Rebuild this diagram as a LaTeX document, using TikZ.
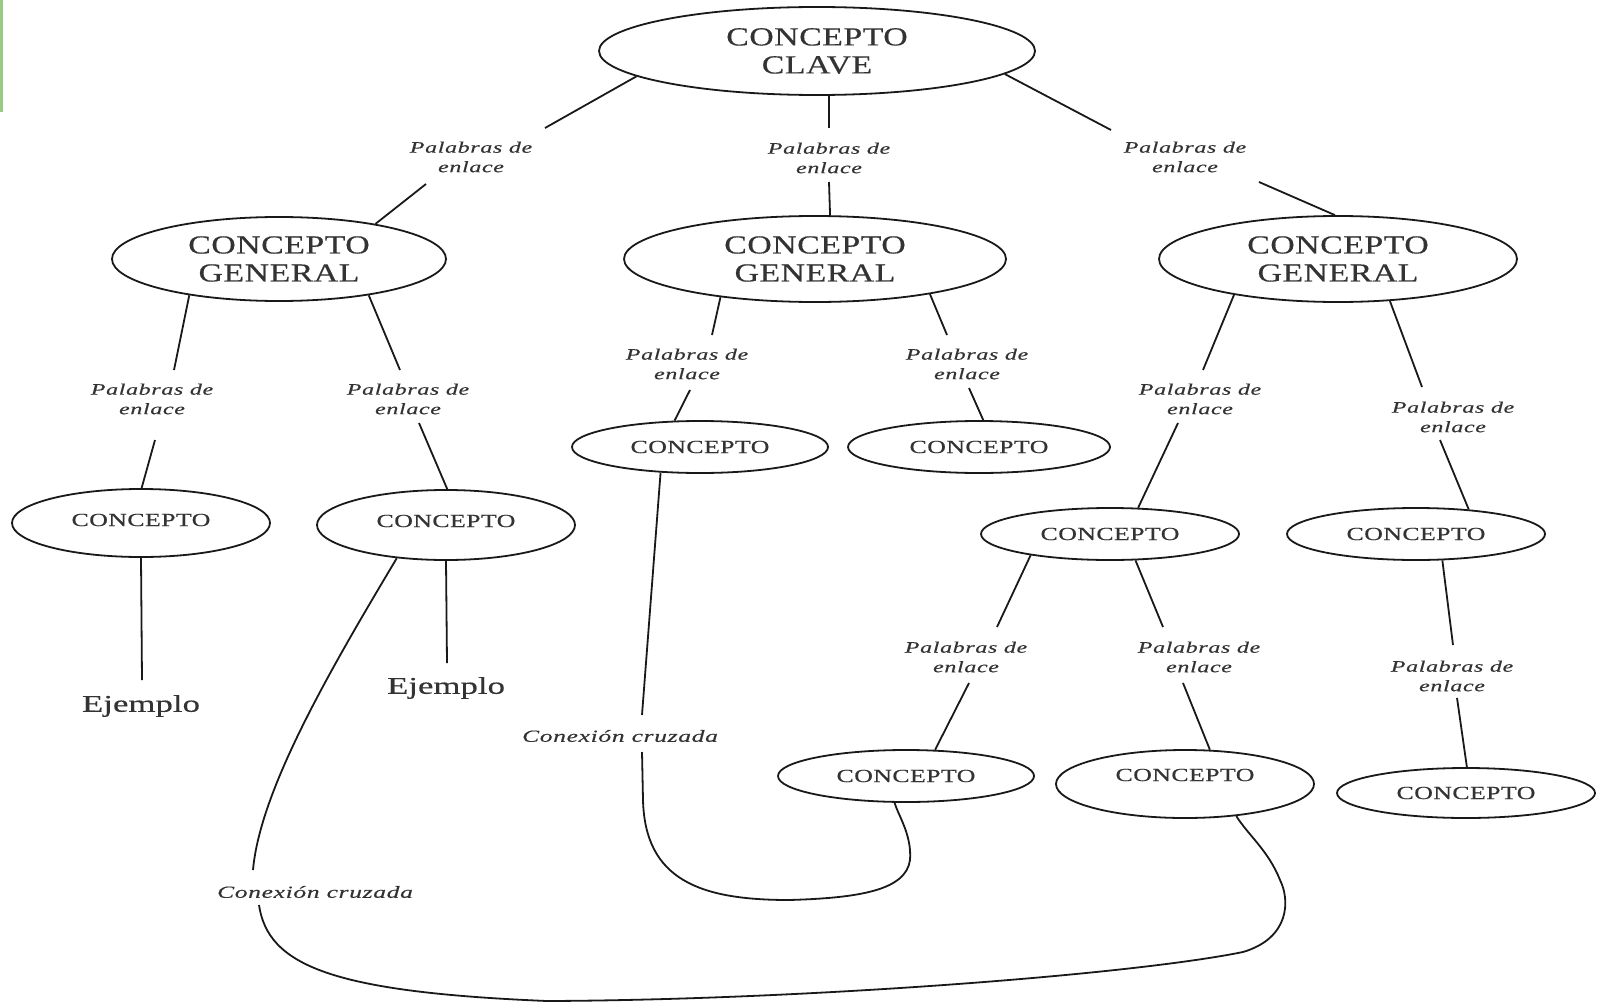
\documentclass[tikz,border=0pt]{standalone}
\usepackage{fontspec}
\setmainfont{Liberation Serif}
\newfontfamily\bigfont[FakeStretch=1.3,LetterSpace=2,FakeBold=0.4]{Liberation Serif}
\newfontfamily\smfont[FakeStretch=1.4,LetterSpace=2,FakeBold=0.4]{Liberation Serif}
\newfontfamily\ejfont[FakeStretch=1.45,FakeBold=0.4]{Liberation Serif}
\newfontfamily\itfont[FakeStretch=1.5,LetterSpace=4,FakeBold=0.3]{Liberation Serif}
\usetikzlibrary{shapes.geometric}
\definecolor{edgegreen}{RGB}{150,205,130}
\begin{document}
\begin{tikzpicture}[x=1pt,y=-1pt,
  ell/.style={draw=black!90, line width=1.8pt, ellipse, inner sep=0pt, text=black!80},
  bigell/.style={ell, font=\bigfont\fontsize{26}{28}\selectfont, align=center},
  smell/.style={ell, font=\smfont\fontsize{18.5}{22}\selectfont},
  lab/.style={font=\itfont\itshape\fontsize{16}{19.5}\selectfont, align=center, inner sep=0pt, text=black!80},
  cross/.style={font=\itfont\itshape\fontsize{17}{20}\selectfont, inner sep=0pt, text=black!80},
  ej/.style={font=\ejfont\fontsize{24}{27}\selectfont, inner sep=0pt, text=black!80},
  conn/.style={line width=1.8pt, draw=black!90},
]
\useasboundingbox (0,0) rectangle (1602,1003);
\fill[white] (0,0) rectangle (1602,1003);
\fill[edgegreen] (0,0) rectangle (3,112);

% concept nodes
\node[bigell, minimum width=436pt, minimum height=88pt] (top) at (817,51) {CONCEPTO\\CLAVE};
\node[bigell, minimum width=334pt, minimum height=84pt] (cgL) at (279,259) {CONCEPTO\\GENERAL};
\node[bigell, minimum width=382pt, minimum height=86pt] (cgM) at (815,259) {CONCEPTO\\GENERAL};
\node[bigell, minimum width=358pt, minimum height=86pt] (cgR) at (1338,259) {CONCEPTO\\GENERAL};
\node[smell, minimum width=258pt, minimum height=68pt] (cL1) at (141,523) {\raisebox{3pt}[\height][\depth]{CONCEPTO}};
\node[smell, minimum width=258pt, minimum height=70pt] (cL2) at (446,525) {\raisebox{4pt}[\height][\depth]{CONCEPTO}};
\node[smell, minimum width=256pt, minimum height=52pt] (cM1) at (700,447) {CONCEPTO};
\node[smell, minimum width=262pt, minimum height=52pt] (cM2) at (979,447) {CONCEPTO};
\node[smell, minimum width=258pt, minimum height=52pt] (cR1) at (1110,534) {CONCEPTO};
\node[smell, minimum width=258pt, minimum height=52pt] (cR2) at (1416,534) {CONCEPTO};
\node[smell, minimum width=256pt, minimum height=52pt] (cR1a) at (906,776) {CONCEPTO};
\node[smell, minimum width=258pt, minimum height=68pt] (cR1b) at (1185,784) {\raisebox{9pt}[\height][\depth]{CONCEPTO}};
\node[smell, minimum width=258pt, minimum height=50pt] (cR2a) at (1466,793) {CONCEPTO};

% linking words
\node[lab] (lTL) at (471,157) {Palabras de\\enlace};
\node[lab] (lTM) at (829,158) {Palabras de\\enlace};
\node[lab] (lTR) at (1185,157) {Palabras de\\enlace};
\node[lab] (lL1) at (152,399) {Palabras de\\enlace};
\node[lab] (lL2) at (408,399) {Palabras de\\enlace};
\node[lab] (lM1) at (687,364) {Palabras de\\enlace};
\node[lab] (lM2) at (967,364) {Palabras de\\enlace};
\node[lab] (lR1) at (1200,399) {Palabras de\\enlace};
\node[lab] (lR2) at (1453,417) {Palabras de\\enlace};
\node[lab] (lR1a) at (966,657) {Palabras de\\enlace};
\node[lab] (lR1b) at (1199,657) {Palabras de\\enlace};
\node[lab] (lR2a) at (1452,676) {Palabras de\\enlace};

% examples and cross-link labels
\node[ej] (ej1) at (141,706) {Ejemplo};
\node[ej] (ej2) at (446,688) {Ejemplo};
\node[cross] (x1) at (620,736) {Conexión cruzada};
\node[cross] (x2) at (315,892) {Conexión cruzada};

% connectors
\draw[conn] (top.188.9) -- ([shift={(74,-29)}]lTL.center);
\draw[conn] ([shift={(-45,27)}]lTL.center) -- (cgL.20.8);
\draw[conn] (top.285.3) -- ([shift={(0,-30)}]lTM.center);
\draw[conn] ([shift={(0,24)}]lTM.center) -- (cgM.71.9);
\draw[conn] (top.353.7) -- ([shift={(-74,-27)}]lTR.center);
\draw[conn] ([shift={(74,25)}]lTR.center) -- (cgR.94);

\draw[conn] (cgL.202.1) -- ([shift={(22,-29)}]lL1.center);
\draw[conn] ([shift={(3,41)}]lL1.center) -- (cL1.89);
\draw[conn] (cgL.338.5) -- ([shift={(-8,-29)}]lL2.center);
\draw[conn] ([shift={(11,24)}]lL2.center) -- (cL2.88);
\draw[conn] (cL1.270) -- ([shift={(1,-26)}]ej1.center);
\draw[conn] (cL2.270) -- ([shift={(1,-25)}]ej2.center);

\draw[conn] (cgM.202.8) -- ([shift={(25,-29)}]lM1.center);
\draw[conn] ([shift={(3,26)}]lM1.center) -- (cM1.134.4);
\draw[conn] (cgM.343.8) -- ([shift={(-20,-29)}]lM2.center);
\draw[conn] ([shift={(2,24)}]lM2.center) -- (cM2.81.3);

\draw[conn] (cgR.199.6) -- ([shift={(3,-29)}]lR1.center);
\draw[conn] ([shift={(-22,24)}]lR1.center) -- (cR1.43.3);
\draw[conn] (cgR.321.7) -- ([shift={(-31,-30)}]lR2.center);
\draw[conn] ([shift={(-13,23)}]lR2.center) -- (cR2.25.1);

\draw[conn] (cR1.195.2) -- ([shift={(31,-30)}]lR1a.center);
\draw[conn] ([shift={(3,26)}]lR1a.center) -- (cR1a.42.2);
\draw[conn] (cR1.314.4) -- ([shift={(-36,-30)}]lR1b.center);
\draw[conn] ([shift={(-16,26)}]lR1b.center) -- (cR1b.54.3);

\draw[conn] (cR2.315.6) -- ([shift={(1,-31)}]lR2a.center);
\draw[conn] ([shift={(5,22)}]lR2a.center) -- (cR2a.88);

% cross connections
\draw[conn] (cM1.213.1) -- ([shift={(22,-21)}]x1.center);
\draw[conn] ([shift={(22,16)}]x1.center) -- (643,800)
  .. controls (645,880) and (700,900) .. (789,900)
  .. controls (860,898) and (906,890) .. (910,860)
  .. controls (912,835) and (898,815) .. (cR1a.247);

\draw[conn] (cL2.214.7) .. controls (330,670) and (260,790) .. ([shift={(-62,-22)}]x2.center);
\draw[conn] ([shift={(-56,13)}]x2.center)
  .. controls (268,965) and (330,992) .. (547,1001)
  .. controls (800,1000) and (1130,975) .. (1243,952)
  .. controls (1290,938) and (1290,900) .. (1280,880)
  .. controls (1268,850) and (1248,835) .. (cR1b.328.5);
\end{tikzpicture}
\end{document}
